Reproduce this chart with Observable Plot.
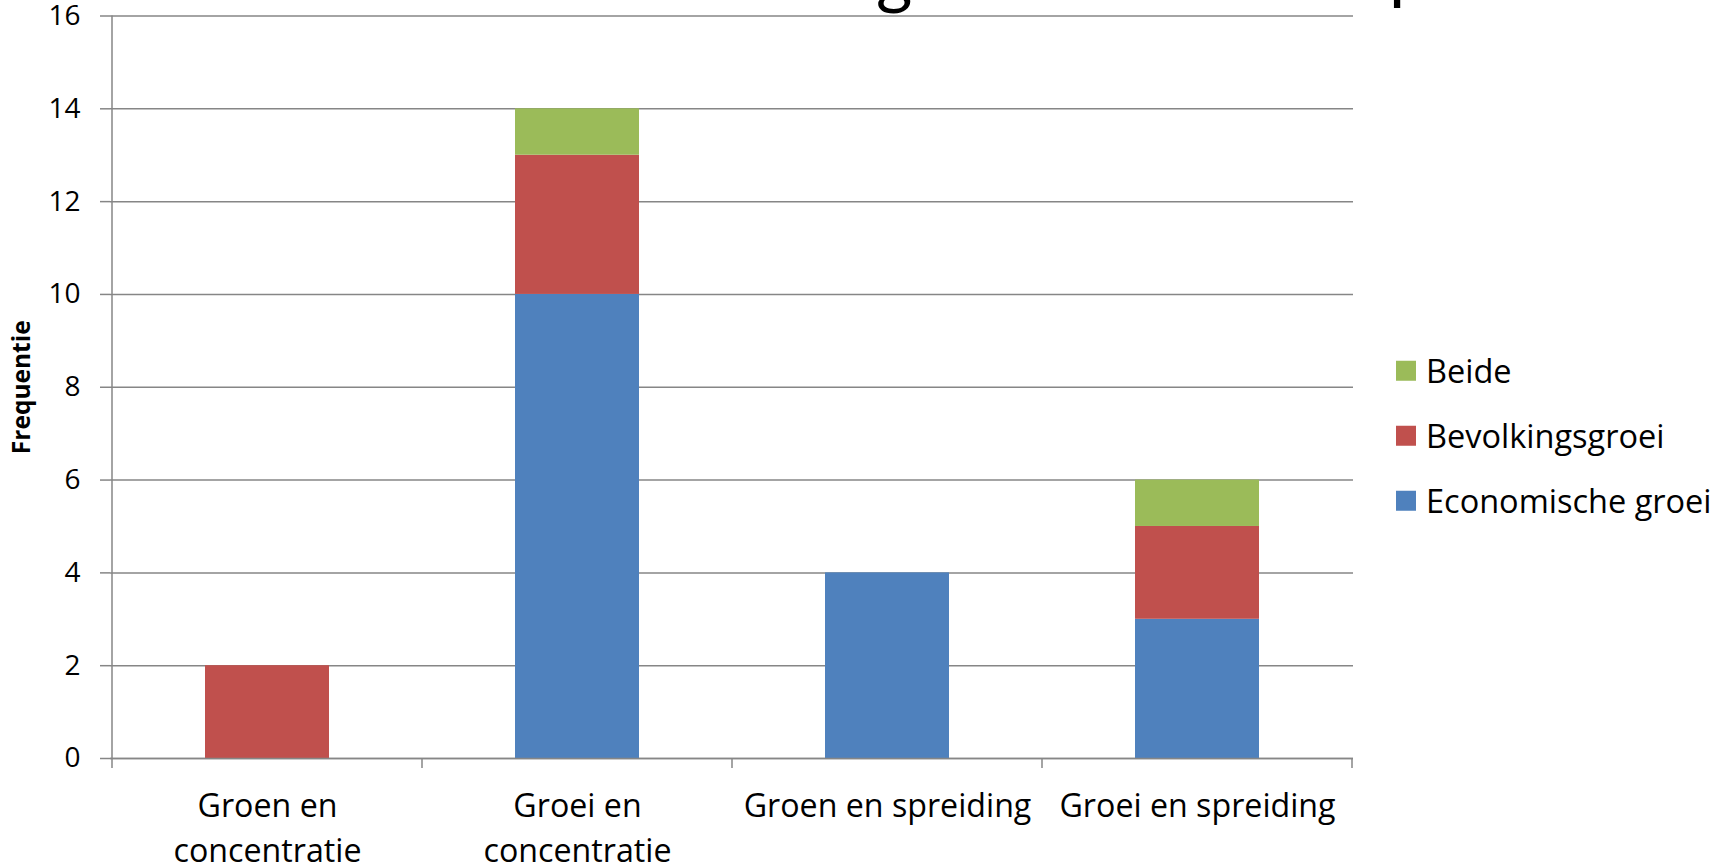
<!DOCTYPE html>
<html>
<head>
<meta charset="utf-8">
<script src="https://cdn.jsdelivr.net/npm/d3@7"></script>
<script src="https://cdn.jsdelivr.net/npm/@observablehq/plot@0.6"></script>
<style>
  html, body { margin: 0; padding: 0; background: #fff; }
  #wrap { position: relative; width: 1728px; height: 867px; overflow: hidden; font-family: "Open Sans", sans-serif; }
  #wrap svg { position: absolute; left: 0; top: 0; }
  g[aria-label="y-axis tick"] path { stroke: #868686; stroke-width: 1.5; }
  .legend { position: absolute; left: 1396px; top: 0; }
  .legend .row { position: absolute; left: 0; display: flex; align-items: center; white-space: nowrap; transform: translateY(-50%); }
  .legend .sw { width: 20px; height: 20px; margin-right: 10px; flex: none; }
  .legend .lab { font-size: 32.5px; color: #000; line-height: 1; }
  .frag { position: absolute; font-family: Lato, sans-serif; font-size: 70px; line-height: 1; color: #000; }
</style>
</head>
<body>
<div id="wrap"></div>
<script>
// ---- data ----
const categories = ["Groen en concentratie", "Groei en concentratie", "Groen en spreiding", "Groei en spreiding"];
const xTickLabels = ["Groen en\nconcentratie", "Groei en\nconcentratie", "Groen en spreiding", "Groei en spreiding"];
const seriesNames = ["Economische groei", "Bevolkingsgroei", "Beide"];
const economischeGroei = [0, 10, 4, 3];
const bevolkingsgroei = [2, 3, 0, 2];
const beide = [0, 1, 0, 1];
const seriesColors = ["#4F81BD", "#C0504D", "#9BBB59"];
const yTicks = [0, 2, 4, 6, 8, 10, 12, 14, 16];
const yLabel = "Frequentie";

const seriesValues = [economischeGroei, bevolkingsgroei, beide];
const rows = [];
categories.forEach((c, i) => {
  seriesNames.forEach((s, j) => {
    rows.push({category: c, series: s, value: seriesValues[j][i]});
  });
});

const grid = "#868686";

const chart = Plot.plot({
  width: 1728,
  height: 867,
  marginLeft: 110,
  marginRight: 375,
  marginTop: 15.5,
  marginBottom: 109,
  style: {fontFamily: "'Open Sans', sans-serif", color: "#000", background: "transparent"},
  x: {domain: categories, paddingInner: 0.6, paddingOuter: 0.3, axis: null},
  y: {domain: [0, 16], axis: null},
  color: {domain: seriesNames, range: seriesColors},
  marks: [
    Plot.gridY(yTicks, {stroke: grid, strokeOpacity: 1, strokeWidth: 1.5}),
    Plot.barY(rows.filter(d => d.value > 0), {x: "category", y: "value", fill: "series", order: seriesNames}),
    Plot.ruleY([0], {stroke: grid, strokeWidth: 1.5}),
    Plot.axisY(yTicks, {tickSize: 10, tickPadding: 20, fontSize: 28, label: null, tickFormat: d => String(d)}),
    Plot.text(categories, {
      x: d => d,
      text: (d, i) => xTickLabels[i],
      frameAnchor: "bottom",
      lineAnchor: "top",
      dy: 26,
      fontSize: 32.2,
      lineHeight: 1.4,
      fill: "#000"
    }),
    Plot.text([yLabel], {
      text: d => d,
      frameAnchor: "left",
      textAnchor: "middle",
      rotate: -90,
      dx: -88,
      fontSize: 24.5,
      fontWeight: "bold",
      fill: "#000"
    })
  ]
});

const wrap = document.getElementById("wrap");
wrap.appendChild(chart);

// axis line on the left and category boundary ticks, from the plot's own scales
const xs = chart.scale("x");
const ys = chart.scale("y");
const y0 = ys.apply(0), yTop = ys.apply(16);
const gap = (xs.step - xs.bandwidth) / 2;
const bounds = categories.map(c => xs.apply(c) - gap);
bounds.push(bounds[bounds.length - 1] + xs.step);
const svg = d3.select(chart);
const g = svg.append("g").attr("stroke", grid).attr("stroke-width", 1.5);
g.append("line").attr("x1", bounds[0]).attr("x2", bounds[0]).attr("y1", yTop).attr("y2", y0);
bounds.forEach(b => {
  g.append("line").attr("x1", b).attr("x2", b).attr("y1", y0).attr("y2", y0 + 10);
});

// legend (top entry = last series)
const legend = document.createElement("div");
legend.className = "legend";
const legendCenters = [371, 436, 501];
seriesNames.slice().reverse().forEach((s, i) => {
  const row = document.createElement("div");
  row.className = "row";
  row.style.top = legendCenters[i] + "px";
  const sw = document.createElement("div");
  sw.className = "sw";
  sw.style.background = seriesColors[seriesNames.indexOf(s)];
  const lab = document.createElement("span");
  lab.className = "lab";
  lab.textContent = s;
  row.appendChild(sw);
  row.appendChild(lab);
  legend.appendChild(row);
});
wrap.appendChild(legend);

// clipped descenders of the slide title above the chart
[["g", 876, -61], ["p", 1389, -66]].forEach(([ch, left, top]) => {
  const s = document.createElement("span");
  s.className = "frag";
  s.textContent = ch;
  s.style.left = left + "px";
  s.style.top = top + "px";
  wrap.appendChild(s);
});
</script>
</body>
</html>
